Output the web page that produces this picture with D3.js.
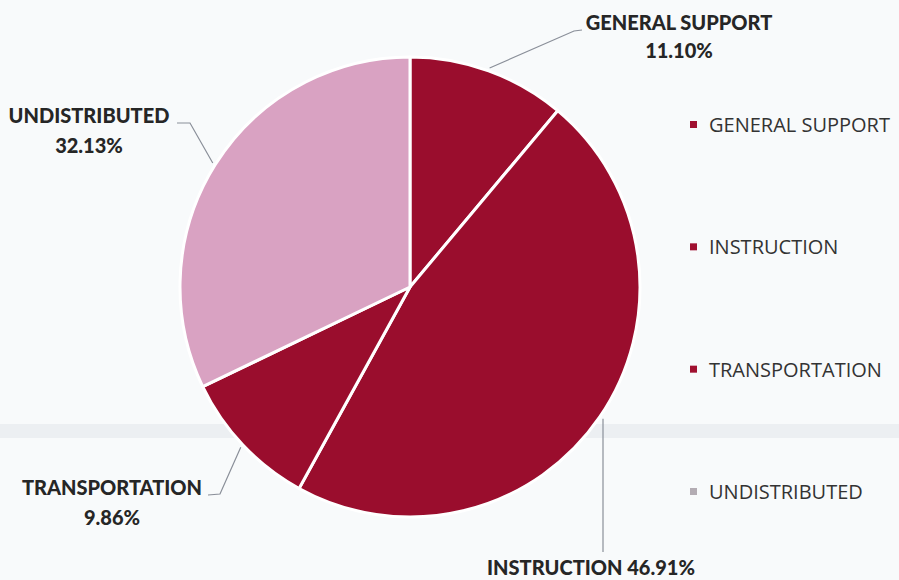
<!DOCTYPE html>
<html>
<head>
<meta charset="utf-8">
<script src="https://d3js.org/d3.v7.min.js"></script>
<style>
  body { margin: 0; background: #f8fafb; }
  svg { display: block; }
  .lbl { font-family: Lato, "Open Sans", sans-serif; font-weight: 900; font-size: 20px; fill: #262626; }
  .leg { font-family: "Open Sans", sans-serif; font-size: 20px; fill: #333; }
</style>
</head>
<body>
<svg width="899" height="580"></svg>
<script>
// data
var categories = ["GENERAL SUPPORT", "INSTRUCTION", "TRANSPORTATION", "UNDISTRIBUTED"];
var shares = [11.10, 46.91, 9.86, 32.13];
var shareLabels = ["11.10%", "46.91%", "9.86%", "32.13%"];
var colors = ["#9a0d2d", "#9a0d2d", "#9a0d2d", "#d9a2c2"];
var legendColors = ["#a01030", "#a01030", "#a01030", "#b3acb3"];

var svg = d3.select("svg");

// faint band in the background
svg.append("rect").attr("x", 0).attr("y", 424).attr("width", 899).attr("height", 14)
  .attr("fill", "#eceff2");

var cx = 410, cy = 287, r = 230;

var pie = d3.pie().sort(null).value(function(d) { return d; });
var arcs = pie(shares);
var arc = d3.arc().innerRadius(0).outerRadius(r);

var g = svg.append("g").attr("transform", "translate(" + cx + "," + cy + ")");

g.selectAll("path")
  .data(arcs)
  .enter()
  .append("path")
  .attr("d", arc)
  .attr("fill", function(d, i) { return colors[i]; })
  .attr("stroke", "#fff")
  .attr("stroke-width", 3)
  .attr("stroke-linejoin", "round");

// labels + leader lines (positions are layout only)
var labelLayout = [
  { lines: [categories[0], shareLabels[0]], x: 679, y: 30, gap: 28, line: [[574, 31], [582, 30]] },
  { lines: [categories[1] + " " + shareLabels[1]], x: 591, y: 575, gap: 0, line: [[603, 552]] },
  { lines: [categories[2], shareLabels[2]], x: 112, y: 495, gap: 30, line: [[220, 494], [208, 495]] },
  { lines: [categories[3], shareLabels[3]], x: 89, y: 123, gap: 30, line: [[190, 123], [177, 123]] }
];

var outer = d3.arc().innerRadius(r + 3).outerRadius(r + 3);

arcs.forEach(function(a, i) {
  var c = outer.centroid(a);
  var p0 = [cx + c[0], cy + c[1]];
  var L = labelLayout[i];
  var pts = i === 1 ? [[L.line[0][0], p0[1]]].concat(L.line) : [p0].concat(L.line);
  svg.append("path")
    .attr("d", d3.line()(pts))
    .attr("fill", "none")
    .attr("stroke", "#8a8f99")
    .attr("stroke-width", 1.2);
  L.lines.forEach(function(t, j) {
    svg.append("text")
      .attr("class", "lbl")
      .attr("x", L.x)
      .attr("y", L.y + j * L.gap)
      .attr("text-anchor", "middle")
      .text(t);
  });
});

// legend
var legendY = d3.scalePoint().domain(categories).range([125, 492]);
var leg = svg.append("g").selectAll("g")
  .data(categories)
  .enter()
  .append("g")
  .attr("transform", function(d) { return "translate(690," + legendY(d) + ")"; });

leg.append("rect")
  .attr("x", 0).attr("y", -4).attr("width", 7).attr("height", 7)
  .attr("fill", function(d, i) { return legendColors[i]; });

leg.append("text")
  .attr("class", "leg")
  .attr("x", 19)
  .attr("y", 7)
  .text(function(d) { return d; });
</script>
</body>
</html>
